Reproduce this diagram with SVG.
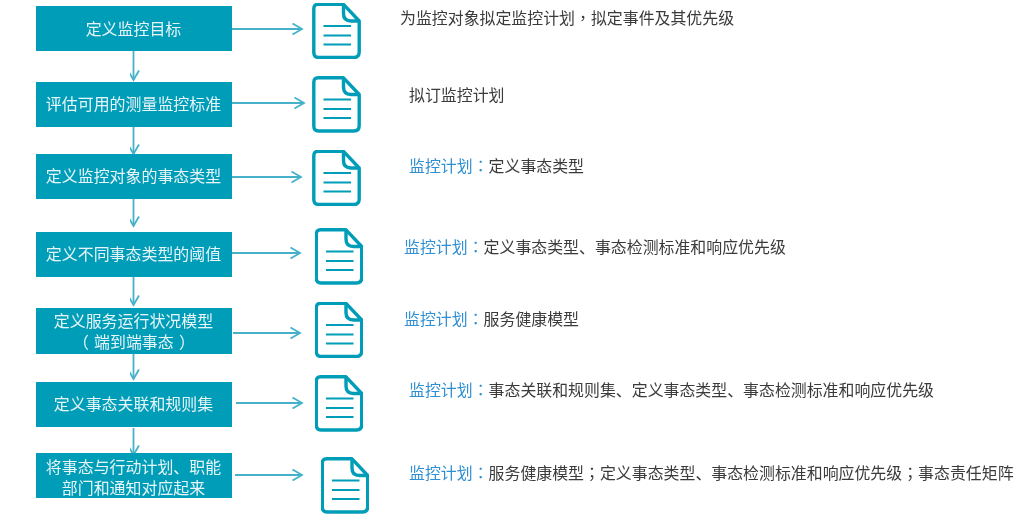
<svg xmlns="http://www.w3.org/2000/svg" width="1023" height="517" viewBox="0 0 1023 517">
<style>
svg>g{filter:url(#soft)}
.box{fill:#049db8}
.bt{fill:#e6f5f8;font:15.95px "Noto Sans CJK SC","Noto Sans",sans-serif;text-anchor:middle}
.rt{fill:#3a3a3a;font:15.92px "Noto Sans CJK SC","Noto Sans",sans-serif}
.bl{fill:#2f8fd2}
.p{font-family:"Noto Sans CJK TC","Noto Sans",sans-serif}
.conn{fill:none;stroke:#45b2c9;stroke-width:1.8}
.doc{fill:none;stroke:#049db8;stroke-width:3.4;stroke-linejoin:round}
.dl{fill:none;stroke:#049db8;stroke-width:2.2}
</style>
<defs>
<filter id="soft" x="-2%" y="-2%" width="104%" height="104%"><feGaussianBlur stdDeviation="0.35"/></filter>
<marker id="ah" markerUnits="userSpaceOnUse" markerWidth="12" markerHeight="14" refX="10.5" refY="7" orient="auto">
<path d="M1,1.5 L10.5,7 L1,12.5" fill="none" stroke="#45b2c9" stroke-width="1.8"/>
</marker>
<g id="docicon">
<path class="doc" d="M6,1.8 H31.5 L47.2,18.5 V49.5 Q47.2,55 42,55 H6.5 Q1.8,55 1.8,50 V6.5 Q1.8,1.8 6,1.8 Z"/>
<path class="doc" d="M31.5,1.8 V11 Q31.5,18.5 39,18.5 H47.2"/>
<path class="dl" d="M11.5,23.5 H39 M11.5,33 H39 M11.5,42 H39"/>
</g>
</defs>
<g id="connectors">
<path class="conn" marker-end="url(#ah)" d="M133.5,51 V80"/>
<path class="conn" marker-end="url(#ah)" d="M133.5,127 V154"/>
<path class="conn" marker-end="url(#ah)" d="M133.5,199 V226"/>
<path class="conn" marker-end="url(#ah)" d="M133.5,277 V305"/>
<path class="conn" marker-end="url(#ah)" d="M133.5,354 V379"/>
<path class="conn" marker-end="url(#ah)" d="M133.5,428 V455"/>
<path class="conn" marker-end="url(#ah)" d="M232,29 H302"/>
<path class="conn" marker-end="url(#ah)" d="M232,103 H304"/>
<path class="conn" marker-end="url(#ah)" d="M232,177 H301"/>
<path class="conn" marker-end="url(#ah)" d="M232,253 H300"/>
<path class="conn" marker-end="url(#ah)" d="M233,333 H300"/>
<path class="conn" marker-end="url(#ah)" d="M236,403 H302"/>
<path class="conn" marker-end="url(#ah)" d="M235,475 H302"/>
</g>
<g id="n1"><rect class="box" x="36" y="6" width="196" height="45"/><text class="bt" x="133.5" y="35">定义监控目标</text></g>
<g id="n2"><rect class="box" x="36" y="82" width="196" height="45"/><text class="bt" x="133.5" y="110">评估可用的测量监控标准</text></g>
<g id="n3"><rect class="box" x="36" y="154" width="196" height="45"/><text class="bt" x="133.5" y="182">定义监控对象的事态类型</text></g>
<g id="n4"><rect class="box" x="36" y="232" width="196" height="45"/><text class="bt" x="133.5" y="260">定义不同事态类型的阈值</text></g>
<g id="n5"><rect class="box" x="36" y="308" width="196" height="46"/><text class="bt" y="327"><tspan x="133.5">定义服务运行状况模型</tspan><tspan x="73" y="348" style="text-anchor:start">（</tspan><tspan x="94" y="348" style="text-anchor:start">端到端事态</tspan><tspan x="179" y="348" style="text-anchor:start">）</tspan></text></g>
<g id="n6"><rect class="box" x="36" y="382" width="196" height="45"/><text class="bt" x="133.5" y="410">定义事态关联和规则集</text></g>
<g id="n7"><rect class="box" x="36" y="453" width="196" height="45"/><text class="bt"><tspan x="133.5" y="472.5">将事态与行动计划、职能</tspan><tspan x="133.5" y="493.5">部门和通知对应起来</tspan></text></g>
<g id="d1"><use href="#docicon" x="312" y="2.5"/></g>
<g id="d2"><use href="#docicon" x="312" y="76"/></g>
<g id="d3"><use href="#docicon" x="312" y="149.5"/></g>
<g id="d4"><use href="#docicon" x="314.5" y="228"/></g>
<g id="d5"><use href="#docicon" x="314.5" y="301.5"/></g>
<g id="d6"><use href="#docicon" x="314.5" y="375"/></g>
<g id="d7"><use href="#docicon" x="320.5" y="457"/></g>
<g id="t1"><text class="rt" x="400" y="24">为监控对象拟定监控计划<tspan class="p">，</tspan>拟定事件及其优先级</text></g>
<g id="t2"><text class="rt" x="409" y="101">拟订监控计划</text></g>
<g id="t3"><text class="rt" x="409" y="172"><tspan class="bl">监控计划<tspan class="p">：</tspan></tspan>定义事态类型</text></g>
<g id="t4"><text class="rt" x="404" y="253"><tspan class="bl">监控计划<tspan class="p">：</tspan></tspan>定义事态类型、事态检测标准和响应优先级</text></g>
<g id="t5"><text class="rt" x="404" y="325"><tspan class="bl">监控计划<tspan class="p">：</tspan></tspan>服务健康模型</text></g>
<g id="t6"><text class="rt" x="409" y="396"><tspan class="bl">监控计划<tspan class="p">：</tspan></tspan>事态关联和规则集、定义事态类型、事态检测标准和响应优先级</text></g>
<g id="t7"><text class="rt" x="409" y="479"><tspan class="bl">监控计划<tspan class="p">：</tspan></tspan>服务健康模型<tspan class="p">；</tspan>定义事态类型、事态检测标准和响应优先级<tspan class="p">；</tspan>事态责任矩阵</text></g>
</svg>
